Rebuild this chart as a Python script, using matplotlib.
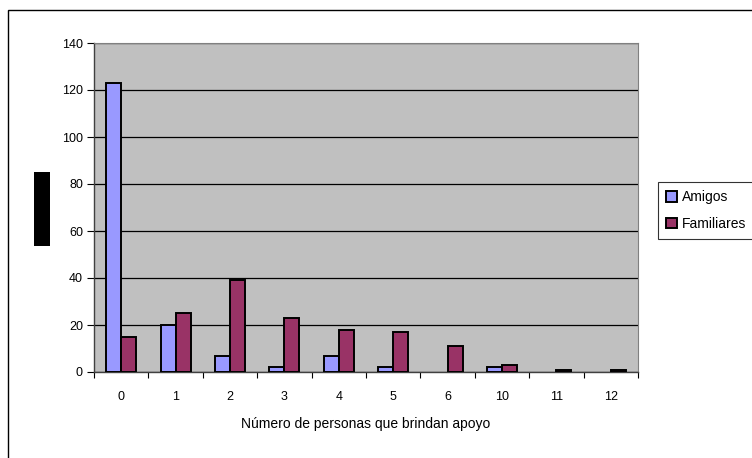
import matplotlib.pyplot as plt
import matplotlib.patches as patches
import numpy as np

plt.rcParams['font.family'] = ['Liberation Sans', 'DejaVu Sans']

categorias = ['0', '1', '2', '3', '4', '5', '6', '10', '11', '12']
amigos = [123, 20, 7, 2, 7, 2, 0, 2, 0, 0]
familiares = [15, 25, 39, 23, 18, 17, 11, 3, 1, 1]
y_ticks = [0, 20, 40, 60, 80, 100, 120, 140]

fig = plt.figure(figsize=(7.52, 4.58), dpi=100)
fig.patch.set_facecolor('white')

# outer chart frame (runs off the right and bottom edges)
fig.patches.append(patches.Rectangle((8 / 752, -0.1), 1.2, 1.1 - 10 / 458,
                                     transform=fig.transFigure, fill=False,
                                     edgecolor='black', linewidth=1.0))

ax = fig.add_axes([94 / 752, 1 - 372 / 458, 544 / 752, 329 / 458])
ax.set_facecolor('#C0C0C0')

x = np.arange(len(categorias))
w = 0.275


def draw_series(pos, vals, color, label):
    bars = ax.bar(pos, vals, w, color=color, edgecolor='black',
                  linewidth=1.4, label=label, zorder=3)
    # empty categories get no outline
    for b, v in zip(bars, vals):
        if v == 0:
            b.set_linewidth(0)
    return bars


draw_series(x - w / 2, amigos, '#9999FF', 'Amigos')
draw_series(x + w / 2, familiares, '#993366', 'Familiares')

ax.set_xlim(-0.5, len(categorias) - 0.5)
ax.set_ylim(0, 140)
ax.set_yticks(y_ticks)
ax.yaxis.grid(True, color='black', linewidth=0.9, zorder=1)
ax.set_axisbelow(True)

ax.set_xticks(x)
ax.set_xticklabels(categorias)
ax.set_xticks(np.arange(len(categorias) + 1) - 0.5, minor=True)
ax.tick_params(axis='x', which='major', length=0, pad=14, labelsize=9)
ax.tick_params(axis='x', which='minor', length=4, width=0.8, direction='out')
ax.tick_params(axis='y', length=5, width=0.8, direction='out', pad=3,
               labelsize=9)

for side in ['top', 'right']:
    ax.spines[side].set_color('#808080')
for side in ['left', 'bottom']:
    ax.spines[side].set_color('#404040')
    ax.spines[side].set_linewidth(1.0)

ax.set_xlabel('Número de personas que brindan apoyo', fontsize=10,
              labelpad=10)

# y axis title block
fig.patches.append(patches.Rectangle((34 / 752, 1 - 246 / 458), 16 / 752, 74 / 458,
                                     transform=fig.transFigure,
                                     facecolor='black', edgecolor='none'))

leg = fig.legend(loc='upper left', bbox_to_anchor=(658 / 752, 1 - 182 / 458),
                 frameon=True, fancybox=False, edgecolor='black',
                 fontsize=10, handlelength=0.8, handleheight=0.8,
                 handletextpad=0.3, borderpad=0.6, labelspacing=0.9,
                 borderaxespad=0)
leg.get_frame().set_linewidth(0.8)

fig.savefig('out.png', dpi=100)
